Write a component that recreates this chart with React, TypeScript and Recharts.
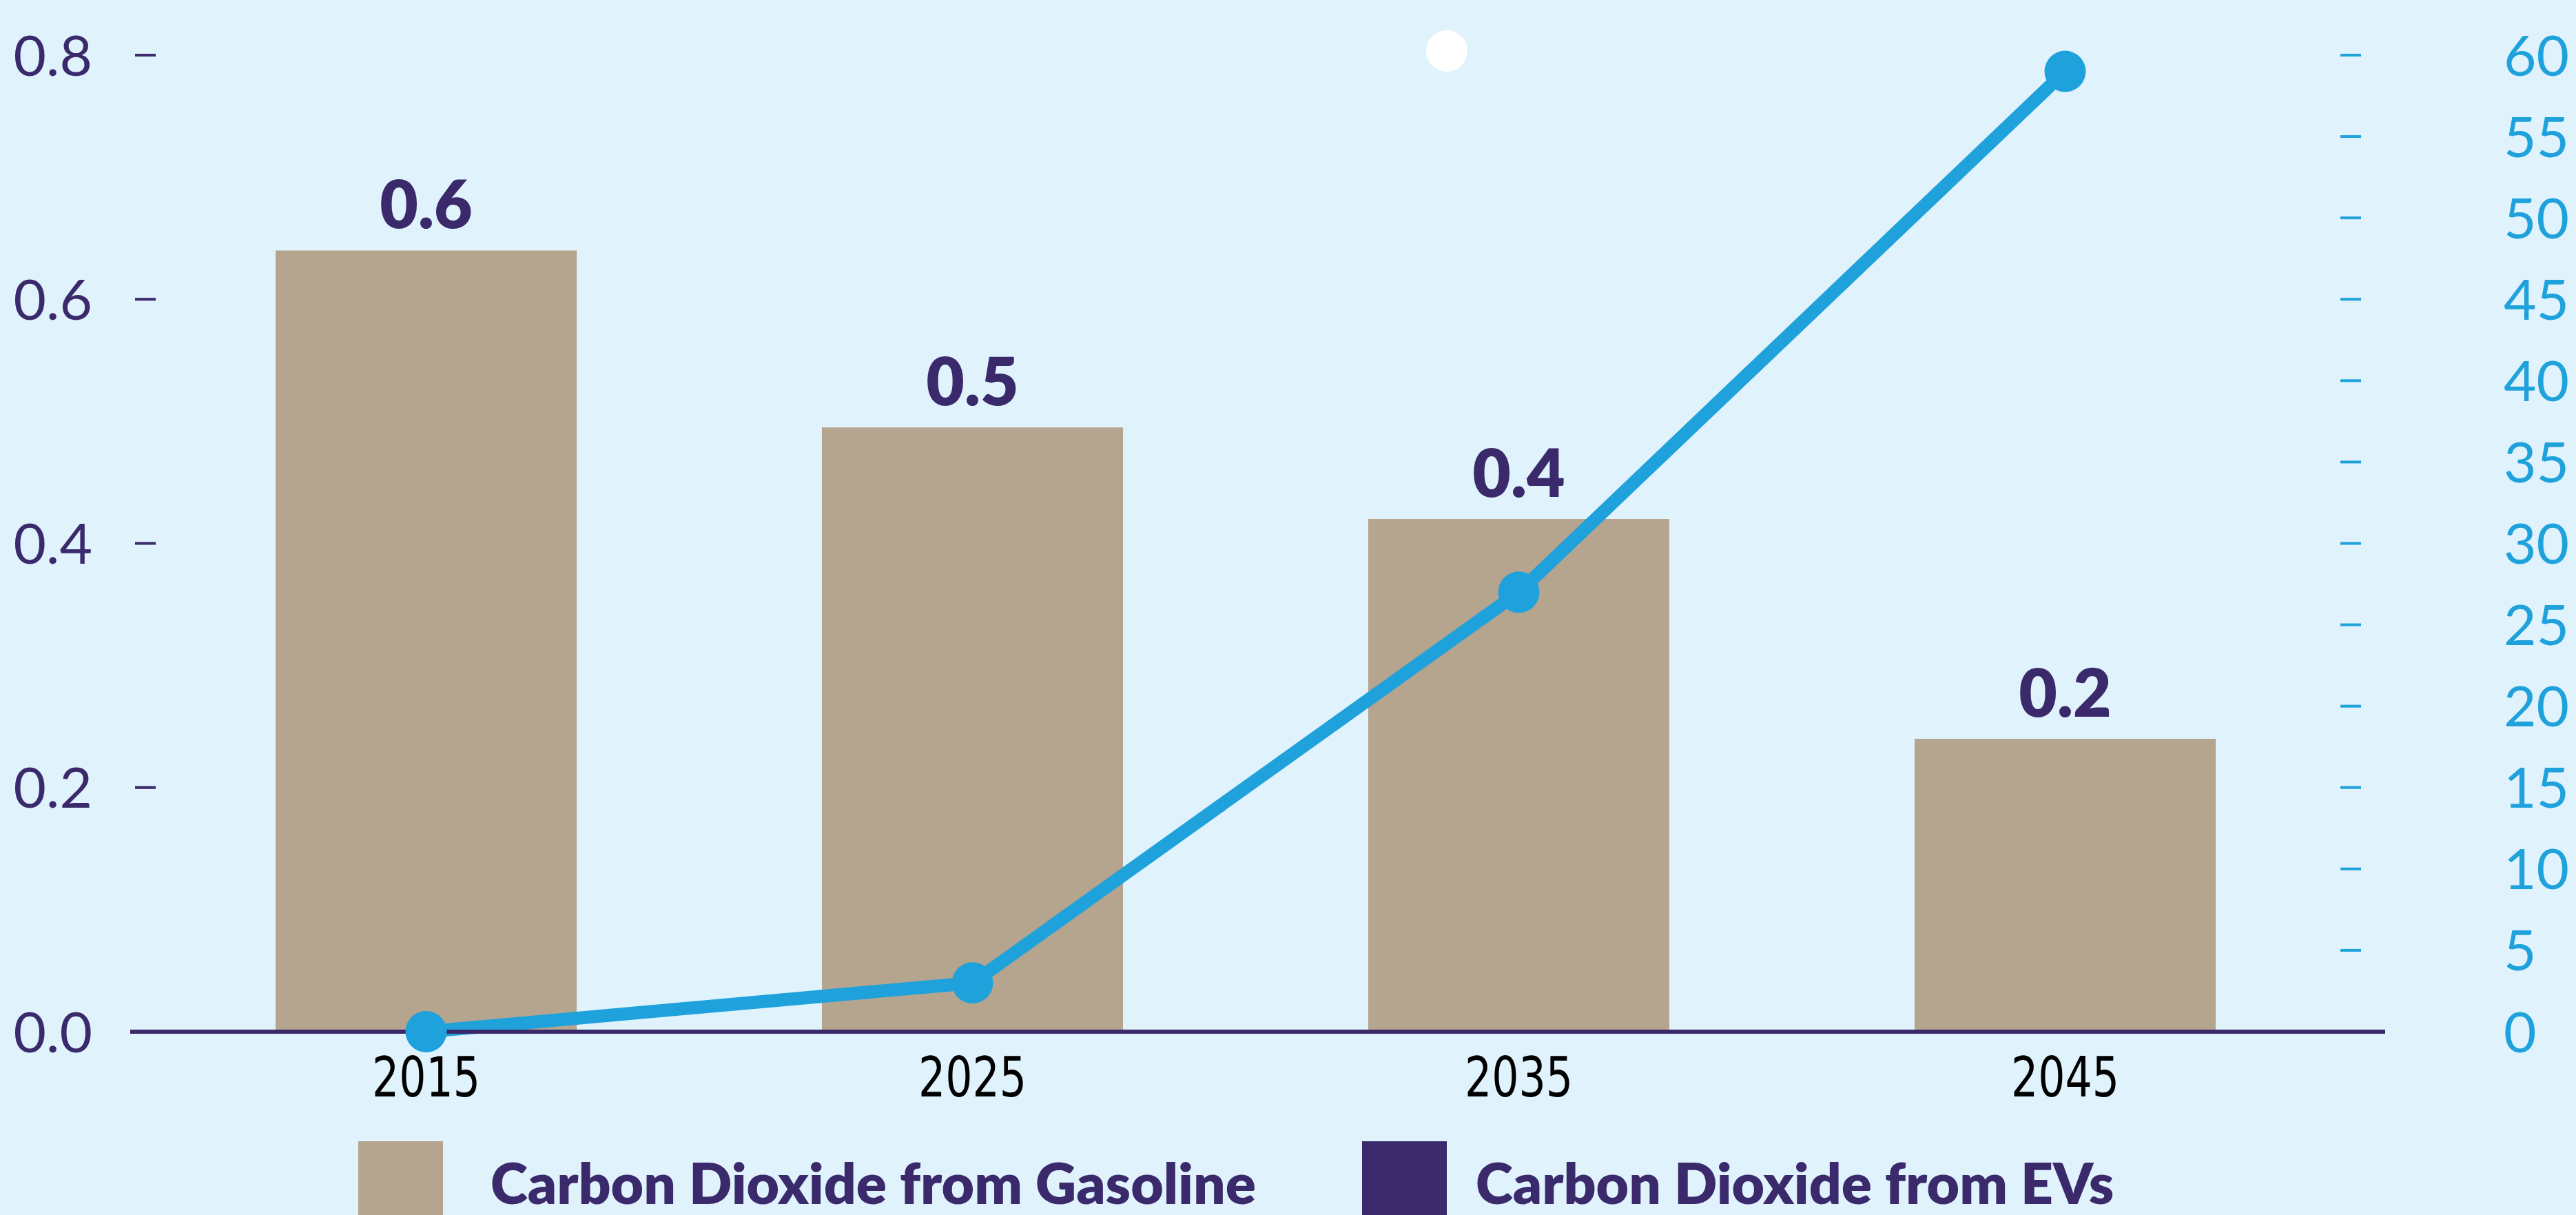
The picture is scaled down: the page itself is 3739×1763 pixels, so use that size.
import React from "react";
import {
  ComposedChart,
  Bar,
  Line,
  XAxis,
  YAxis,
  LabelList,
} from "recharts";

const years = ["2015", "2025", "2035", "2045"];
const gasolineCO2 = [0.64, 0.495, 0.42, 0.24];
const evCount = [0, 3, 27, 59];
const leftTicks = [0, 0.2, 0.4, 0.6, 0.8];
const rightTicks = [0, 5, 10, 15, 20, 25, 30, 35, 40, 45, 50, 55, 60];
const legendLabels = ["Carbon Dioxide from Gasoline", "Carbon Dioxide from EVs"];

const BG = "#E0F2FC";
const TAN = "#B5A48E";
const PURPLE = "#3A2A6B";
const BLUE = "#1FA2DC";
const W = 3739;
const H = 1763;

const data = years.map((year, i) => ({
  year,
  gasoline: gasolineCO2[i],
  evs: evCount[i],
}));

function LeftTick(props: any) {
  const { x, y, payload } = props;
  return (
    <g>
      <line x1={x + 7} x2={x + 37} y1={y} y2={y} stroke={PURPLE} strokeWidth={4} />
      <text
        x={x - 55}
        y={y}
        dy="0.36em"
        textAnchor="end"
        fill={PURPLE}
        fontSize={82}
        fontFamily="Lato, 'Open Sans', sans-serif"
      >
        {Number(payload.value).toFixed(1)}
      </text>
    </g>
  );
}

function RightTick(props: any) {
  const { x, y, payload } = props;
  return (
    <g>
      {payload.value !== 0 && (
        <line x1={x - 65} x2={x - 35} y1={y} y2={y} stroke={BLUE} strokeWidth={4} />
      )}
      <text
        x={x + 172}
        y={y}
        dy="0.36em"
        textAnchor="start"
        fill={BLUE}
        fontSize={82}
        fontFamily="Lato, 'Open Sans', sans-serif"
      >
        {payload.value}
      </text>
    </g>
  );
}

function YearTick(props: any) {
  const { x, y, payload } = props;
  return (
    <text
      x={x}
      y={y}
      dy="0.71em"
      textAnchor="middle"
      fill="#000"
      fontSize={80}
      textLength={157}
      lengthAdjust="spacingAndGlyphs"
      fontFamily="'Liberation Sans Narrow', 'DejaVu Sans Condensed', sans-serif"
    >
      {payload.value}
    </text>
  );
}

export default function App() {
  const swatches = [TAN, PURPLE];
  const swatchX = [520, 1977];
  const textX = [712, 2142];
  return (
    <div
      style={{
        position: "absolute",
        left: 0,
        top: 0,
        width: W,
        height: H,
        background: BG,
        overflow: "hidden",
      }}
    >
      <ComposedChart
        width={W}
        height={H}
        data={data}
        margin={{ top: 80, right: 0, bottom: 0, left: 0 }}
      >
        <XAxis
          dataKey="year"
          padding={{ left: 33, right: 68 }}
          axisLine={{ stroke: PURPLE, strokeWidth: 6 }}
          tickLine={false}
          tickSize={0}
          tickMargin={37}
          height={266}
          tick={YearTick}
        />
        <YAxis
          yAxisId="left"
          orientation="left"
          width={189}
          domain={[0, 0.8]}
          ticks={leftTicks}
          axisLine={false}
          tickLine={false}
          tickSize={0}
          tickMargin={0}
          tick={LeftTick}
        />
        <YAxis
          yAxisId="right"
          orientation="right"
          width={277}
          domain={[0, 60]}
          ticks={rightTicks}
          axisLine={false}
          tickLine={false}
          tickSize={0}
          tickMargin={0}
          tick={RightTick}
        />
        <Bar
          yAxisId="left"
          dataKey="gasoline"
          fill={TAN}
          barSize={437}
          isAnimationActive={false}
        >
          <LabelList
            dataKey="gasoline"
            position="top"
            offset={32}
            formatter={(v: any) => Number(v).toFixed(1)}
            fill={PURPLE}
            fontSize={96}
            fontWeight={800}
            fontFamily="Lato, 'Open Sans', sans-serif"
          />
        </Bar>
        <Line
          yAxisId="right"
          dataKey="evs"
          type="linear"
          stroke={BLUE}
          strokeWidth={19}
          dot={{ r: 30, fill: BLUE, stroke: "none" }}
          activeDot={false}
          isAnimationActive={false}
        />
      </ComposedChart>
      <svg
        width={W}
        height={H}
        style={{ position: "absolute", left: 0, top: 0, pointerEvents: "none" }}
      >
        <circle cx={2100} cy={74} r={30} fill="#fff" />
        {legendLabels.map((label, i) => (
          <g key={label}>
            <rect x={swatchX[i]} y={1656} width={123} height={123} fill={swatches[i]} />
            <text
              x={textX[i]}
              y={1747}
              fill={PURPLE}
              fontSize={82}
              fontWeight={800}
              fontFamily="Lato, 'Open Sans', sans-serif"
            >
              {label}
            </text>
          </g>
        ))}
      </svg>
    </div>
  );
}
